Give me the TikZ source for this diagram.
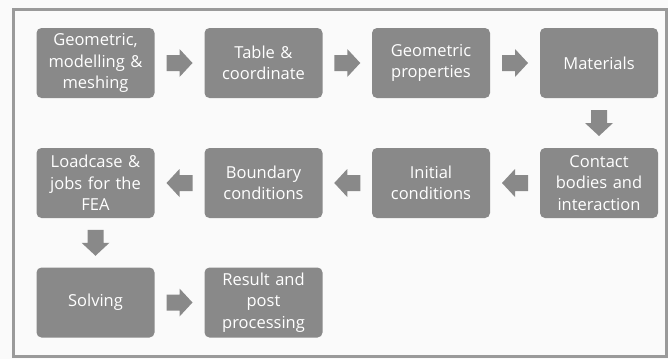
\documentclass[tikz,border=0pt]{standalone}
\usepackage{fontspec}
\setmainfont{Open Sans}
\definecolor{boxgray}{HTML}{898989}
\definecolor{framegray}{HTML}{9A9A9A}
\tikzset{
  stepbox/.style={fill=boxgray, rounded corners=5pt, minimum width=118pt, minimum height=70pt,
    inner sep=1pt, align=center, text=white, font=\fontsize{16.5}{21.5}\selectfont, text width=116pt},
  blockarrow/.pic={\fill[boxgray] (-13,-8) -- (0,-8) -- (0,-14) -- (13,0) -- (0,14) -- (0,8) -- (-13,8) -- cycle;}
}
\begin{document}
\begin{tikzpicture}[x=1pt,y=-1pt]
\useasboundingbox (0,0) rectangle (668,359);
\fill[white!98!black] (0,0) rectangle (668,359);
\draw[framegray, line width=3pt] (13.5,9.5) rectangle (666,356.5);
\node[stepbox] (n1) at (95.5,63) {Geometric,\\modelling \&\\meshing};
\node[stepbox] (n2) at (263.5,63) {Table \&\\coordinate};
\node[stepbox] (n3) at (431,63) {Geometric\\properties};
\node[stepbox] (n4) at (599,63) {Materials};
\node[stepbox] (n5) at (599,183) {Contact\\bodies and\\interaction};
\node[stepbox] (n6) at (431,183) {Initial\\conditions};
\node[stepbox] (n7) at (263.5,183) {Boundary\\conditions};
\node[stepbox] (n8) at (95.5,183) {Loadcase \&\\jobs for the\\FEA};
\node[stepbox] (n9) at (95.5,302.5) {Solving};
\node[stepbox] (n10) at (263.5,302.5) {Result and\\post\\processing};
\path (n1.east) -- (n2.west) pic[midway] {blockarrow};
\path (n2.east) -- (n3.west) pic[midway] {blockarrow};
\path (n3.east) -- (n4.west) pic[midway] {blockarrow};
\path (n4.south) -- (n5.north) pic[midway, rotate=-90] {blockarrow};
\path (n5.west) -- (n6.east) pic[midway, rotate=180] {blockarrow};
\path (n6.west) -- (n7.east) pic[midway, rotate=180] {blockarrow};
\path (n7.west) -- (n8.east) pic[midway, rotate=180] {blockarrow};
\path (n8.south) -- (n9.north) pic[midway, rotate=-90] {blockarrow};
\path (n9.east) -- (n10.west) pic[midway] {blockarrow};
\end{tikzpicture}
\end{document}
